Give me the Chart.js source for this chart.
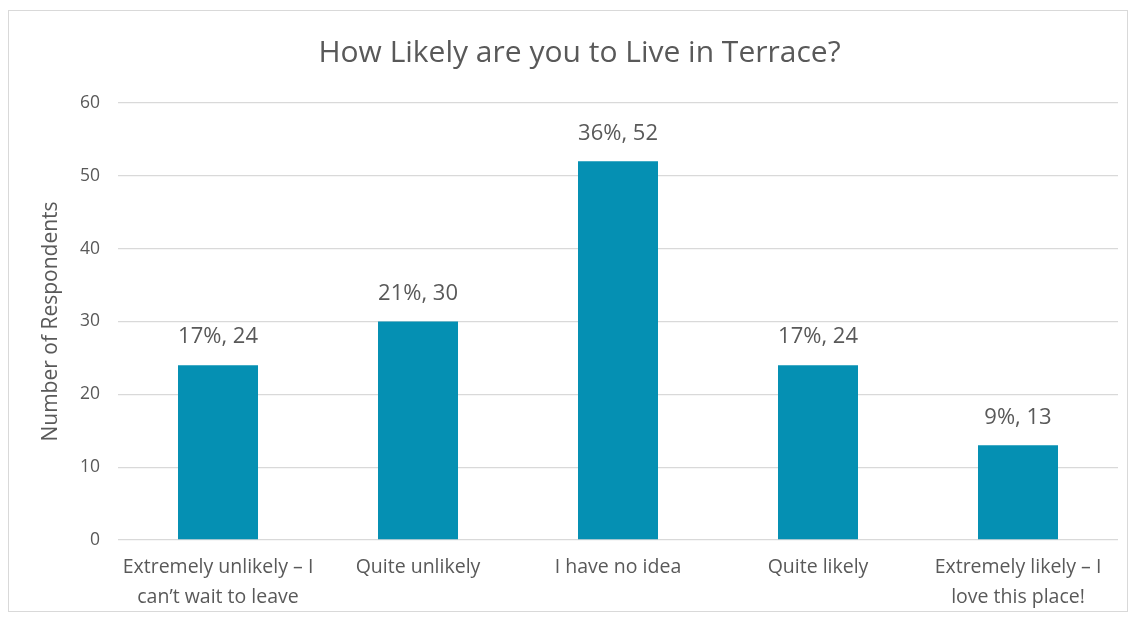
<!DOCTYPE html>
<html>
<head>
<meta charset="utf-8">
<script src="https://cdn.jsdelivr.net/npm/chart.js@4"></script>
<style>
  body{margin:0;background:#fff;}
  #frame{position:absolute;left:8px;top:10px;width:1118px;height:600px;border:1px solid #d9d9d9;}
</style>
</head>
<body>
<div id="frame"><canvas id="likelyChart" width="1118" height="600"></canvas></div>
<script>
var categories = [["Extremely unlikely \u2013 I", "can\u2019t wait to leave"],
                  "Quite unlikely",
                  "I have no idea",
                  "Quite likely",
                  ["Extremely likely \u2013 I", "love this place!"]];
var respondents = [24, 30, 52, 24, 13];
var percents = [17, 21, 36, 17, 9];
var yTicks = [0, 10, 20, 30, 40, 50, 60];

var textColor = "#595959";
var fontName = "'Open Sans', 'Liberation Sans', sans-serif";

// labels above bars "17%, 24"
var barLabels = {
  id: 'barLabels',
  afterDatasetsDraw: function(chart){
    var ctx = chart.ctx;
    var meta = chart.getDatasetMeta(0);
    ctx.save();
    ctx.fillStyle = textColor;
    ctx.font = "22px " + fontName;
    ctx.textAlign = "center";
    ctx.textBaseline = "middle";
    meta.data.forEach(function(bar, i){
      ctx.fillText(percents[i] + "%, " + respondents[i], bar.x, bar.y - 28);
    });
    ctx.restore();
  }
};

var ctx = document.getElementById("likelyChart");
var chart = new Chart(ctx, {
  type: 'bar',
  data: {
    labels: categories,
    datasets: [{
      label: "Respondents",
      data: respondents,
      backgroundColor: "#0590b3",
      barPercentage: 0.4,
      categoryPercentage: 1.0
    }]
  },
  options: {
    responsive: false,
    animation: false,
    layout: { padding: { left: 32, right: 9, top: 24, bottom: 0 } },
    plugins: {
      legend: { display: false },
      tooltip: { enabled: false },
      title: {
        display: true,
        text: "How Likely are you to Live in Terrace?",
        color: textColor,
        font: { family: fontName, size: 30, weight: 'normal', lineHeight: 1.2 },
        padding: { top: 0, bottom: 32 }
      }
    },
    scales: {
      x: {
        grid: { display: false, drawTicks: false },
        border: { display: false },
        afterFit: function(axis){ axis.height = 71; },
        ticks: {
          color: textColor,
          font: { family: fontName, size: 19.5, lineHeight: '30px' },
          padding: 12,
          maxRotation: 0,
          autoSkip: false
        }
      },
      y: {
        min: 0,
        max: 60,
        afterBuildTicks: function(axis){
          axis.ticks = yTicks.map(function(v){ return { value: v }; });
        },
        grid: { color: "#d9d9d9", lineWidth: 1.3, drawTicks: false },
        border: { display: false },
        ticks: {
          color: textColor,
          font: { family: fontName, size: 17.5 },
          padding: 18
        },
        title: {
          display: true,
          text: "Number of Respondents",
          color: textColor,
          font: { family: fontName, size: 21, lineHeight: 1 },
          padding: { top: 0, bottom: 0 }
        }
      }
    }
  },
  plugins: [barLabels]
});
</script>
</body>
</html>
